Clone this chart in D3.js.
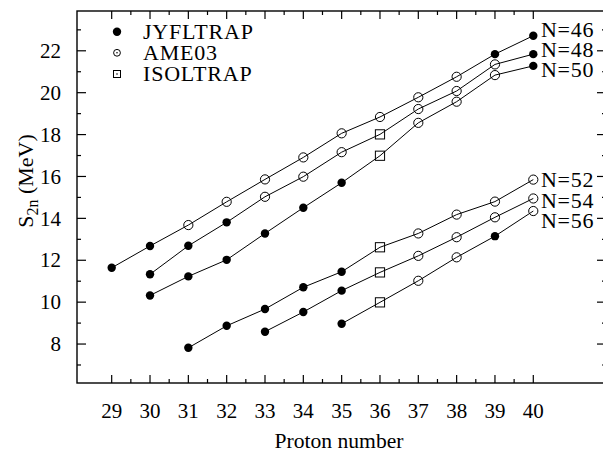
<!DOCTYPE html>
<html>
<head>
<meta charset="utf-8">
<script src="https://cdn.jsdelivr.net/npm/d3@7"></script>
<style>
  html, body { margin: 0; padding: 0; background: #fff; }
  svg { display: block; }
</style>
</head>
<body>
<svg id="chart" width="603" height="456"></svg>
<script>
// ---- Data ----
const protonNumbers = [29, 30, 31, 32, 33, 34, 35, 36, 37, 38, 39, 40];
const xTickLabels = ["29","30","31","32","33","34","35","36","37","38","39","40"];
const yTickLabels = ["8","10","12","14","16","18","20","22"];

const seriesNames = ["N=46", "N=48", "N=50", "N=52", "N=54", "N=56"];

const zN46 = [29, 30, 31, 32, 33, 34, 35, 36, 37, 38, 39, 40];
const sN46 = [11.64, 12.68, 13.68, 14.79, 15.86, 16.91, 18.06, 18.84, 19.78, 20.76, 21.84, 22.72];
const srcN46 = ["J","J","A","A","A","A","A","A","A","A","J","J"];

const zN48 = [30, 31, 32, 33, 34, 35, 36, 37, 38, 39, 40];
const sN48 = [11.33, 12.69, 13.81, 15.03, 15.99, 17.16, 18.01, 19.22, 20.08, 21.35, 21.84];
const srcN48 = ["J","J","J","A","A","A","I","A","A","A","J"];

const zN50 = [30, 31, 32, 33, 34, 35, 36, 37, 38, 39, 40];
const sN50 = [10.32, 11.23, 12.02, 13.28, 14.51, 15.70, 16.99, 18.56, 19.57, 20.84, 21.28];
const srcN50 = ["J","J","J","J","J","J","I","A","A","A","J"];

const zN52 = [31, 32, 33, 34, 35, 36, 37, 38, 39, 40];
const sN52 = [7.82, 8.87, 9.67, 10.71, 11.45, 12.62, 13.28, 14.18, 14.80, 15.85];
const srcN52 = ["J","J","J","J","J","I","A","A","A","A"];

const zN54 = [33, 34, 35, 36, 37, 38, 39, 40];
const sN54 = [8.59, 9.53, 10.55, 11.42, 12.21, 13.10, 14.05, 14.95];
const srcN54 = ["J","J","J","I","A","A","A","A"];

const zN56 = [35, 36, 37, 38, 39, 40];
const sN56 = [8.97, 9.99, 11.02, 12.14, 13.15, 14.35];
const srcN56 = ["J","I","A","A","J","A"];

// label anchor values (in MeV) for the series names at the right
const seriesLabelValues = [23.0, 22.05, 21.1, 15.85, 14.85, 13.9];

const legendNames = ["JYFLTRAP", "AME03", "ISOLTRAP"];
const legendKeys = ["J", "A", "I"];

// ---- Layout ----
const FONT = "Liberation Serif";
const svg = d3.select("#chart");
const plot = { left: 77, right: 606, top: 11, bottom: 383 };

const x = d3.scaleLinear().domain([28.095, 41.897]).range([plot.left, plot.right]);
const y = d3.scaleLinear().domain([6.14, 23.9]).range([plot.bottom, plot.top]);

const series = [
  { z: zN46, s: sN46, src: srcN46 },
  { z: zN48, s: sN48, src: srcN48 },
  { z: zN50, s: sN50, src: srcN50 },
  { z: zN52, s: sN52, src: srcN52 },
  { z: zN54, s: sN54, src: srcN54 },
  { z: zN56, s: sN56, src: srcN56 }
].map((d, i) => ({
  name: seriesNames[i],
  labelValue: seriesLabelValues[i],
  points: d.z.map((z, j) => ({ z, v: d.s[j], src: d.src[j] }))
}));

// ---- Axes (ticks inward on all four sides) ----
const majorX = protonNumbers;
const minorX = d3.range(29.5, 40, 1);
const majorY = yTickLabels.map(Number);
const minorY = d3.range(7, 24, 2);

const axisG = svg.append("g").attr("stroke", "#000").attr("stroke-width", 1.2);

function tickLines(vals, len, isX) {
  vals.forEach(v => {
    if (isX) {
      const px = x(v);
      axisG.append("line").attr("x1", px).attr("x2", px).attr("y1", plot.bottom).attr("y2", plot.bottom - len);
      axisG.append("line").attr("x1", px).attr("x2", px).attr("y1", plot.top).attr("y2", plot.top + len);
    } else {
      const py = y(v);
      axisG.append("line").attr("x1", plot.left).attr("x2", plot.left + len).attr("y1", py).attr("y2", py);
      axisG.append("line").attr("x1", plot.right).attr("x2", plot.right - len).attr("y1", py).attr("y2", py);
    }
  });
}
tickLines(majorX, 8, true);
tickLines(minorX, 4, true);
tickLines(majorY, 9, false);
tickLines(minorY, 4, false);

svg.append("rect")
  .attr("x", plot.left).attr("y", plot.top)
  .attr("width", plot.right - plot.left).attr("height", plot.bottom - plot.top)
  .attr("fill", "none").attr("stroke", "#000").attr("stroke-width", 1.4);

const T = svg.append("g").attr("font-family", FONT).attr("fill", "#000");

// tick labels
T.append("g").selectAll("text").data(majorX).join("text")
  .attr("x", d => x(d)).attr("y", 418)
  .attr("text-anchor", "middle").attr("font-size", 21)
  .text((d, i) => xTickLabels[i]);

T.append("g").selectAll("text").data(majorY).join("text")
  .attr("x", 61).attr("y", d => y(d)).attr("dy", "0.34em")
  .attr("text-anchor", "end").attr("font-size", 21)
  .text((d, i) => yTickLabels[i]);

// axis titles
T.append("text")
  .attr("x", 339).attr("y", 448)
  .attr("text-anchor", "middle").attr("font-size", 21.6)
  .text("Proton number");

const yt = T.append("text")
  .attr("transform", "translate(33,181) rotate(-90)")
  .attr("text-anchor", "middle").attr("font-size", 22);
yt.append("tspan").text("S");
yt.append("tspan").attr("font-size", 16).attr("dy", 5).text("2n");
yt.append("tspan").attr("dy", -5).text(" (MeV)");

// ---- Series ----
const line = d3.line().x(d => x(d.z)).y(d => y(d.v));
const sg = svg.append("g");
sg.selectAll("path.series").data(series).join("path")
  .attr("class", "series")
  .attr("d", d => line(d.points))
  .attr("fill", "none").attr("stroke", "#000").attr("stroke-width", 1);

function drawMarker(g, src, cx, cy) {
  if (src === "J") {
    g.append("circle").attr("cx", cx).attr("cy", cy).attr("r", 4.2).attr("fill", "#000");
  } else if (src === "A") {
    g.append("circle").attr("cx", cx).attr("cy", cy).attr("r", 4.6)
      .attr("fill", "none").attr("stroke", "#000").attr("stroke-width", 1);
  } else {
    const h = 4.6;
    g.append("rect").attr("x", cx - h).attr("y", cy - h).attr("width", 2 * h).attr("height", 2 * h)
      .attr("fill", "none").attr("stroke", "#000").attr("stroke-width", 1);
  }
}

const mg = svg.append("g");
series.forEach(s => {
  s.points.forEach(p => drawMarker(mg, p.src, x(p.z), y(p.v)));
});

// series labels
T.append("g").selectAll("text").data(series).join("text")
  .attr("x", 541).attr("y", d => y(d.labelValue)).attr("dy", "0.34em")
  .attr("font-size", 22).attr("letter-spacing", 0.7)
  .text(d => d.name);

// ---- Legend ----
const legendRowY = [31.7, 52.8, 74];
const lg = svg.append("g");
legendNames.forEach((name, i) => {
  const key = legendKeys[i];
  const cy = legendRowY[i];
  if (key === "J") {
    lg.append("circle").attr("cx", 117).attr("cy", cy).attr("r", 4.2).attr("fill", "#000");
  } else if (key === "A") {
    lg.append("circle").attr("cx", 117).attr("cy", cy).attr("r", 3.4)
      .attr("fill", "none").attr("stroke", "#000").attr("stroke-width", 1);
    lg.append("circle").attr("cx", 117).attr("cy", cy).attr("r", 0.8).attr("fill", "#000");
  } else {
    lg.append("rect").attr("x", 113.5).attr("y", cy - 3.5).attr("width", 7).attr("height", 7)
      .attr("fill", "none").attr("stroke", "#000").attr("stroke-width", 1);
    lg.append("circle").attr("cx", 117).attr("cy", cy).attr("r", 0.8).attr("fill", "#000");
  }
  T.append("text").attr("x", 143).attr("y", cy).attr("dy", "0.34em")
    .attr("font-size", 22).attr("letter-spacing", 0.8).text(name);
});
</script>
</body>
</html>
